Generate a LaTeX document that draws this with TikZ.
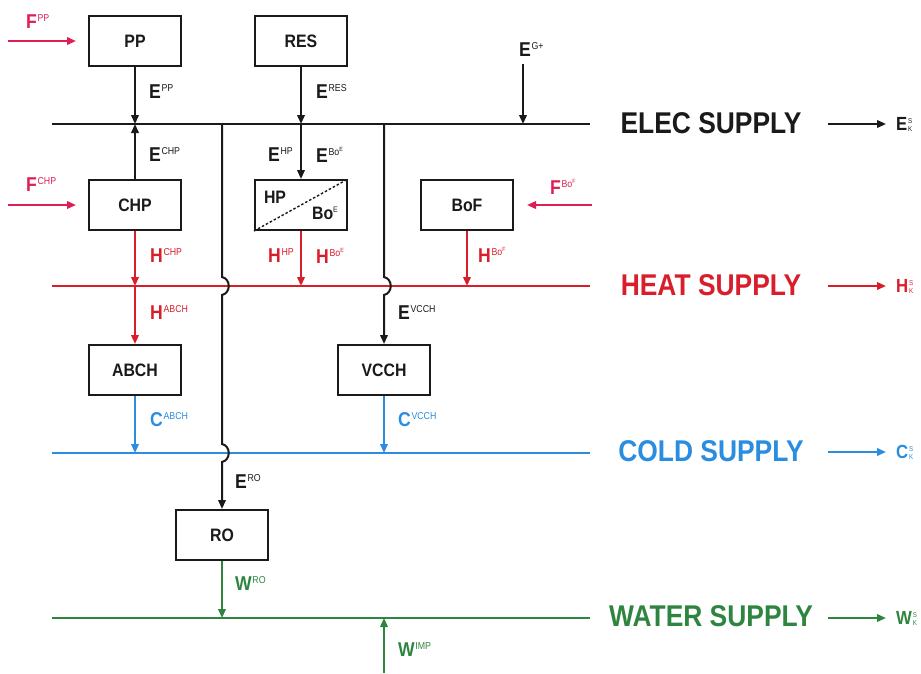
\documentclass[tikz,border=0pt]{standalone}
\usepackage{fontspec}
\setmainfont{Liberation Sans}[FakeStretch=0.88]
\usetikzlibrary{arrows.meta}
\definecolor{ink}{HTML}{1A1A1A}
\definecolor{heatc}{HTML}{D91E2B}
\definecolor{fuelc}{HTML}{DE1F55}
\definecolor{coldc}{HTML}{2A8DE0}
\definecolor{waterc}{HTML}{2E8540}
\newcommand\Lbl[2]{{\bfseries\fontsize{20}{20}\selectfont #1}\hspace{0.8pt}\raisebox{7pt}{\fontsize{10}{10}\selectfont #2}}
\newcommand\SupB[2]{#1\raisebox{3.5pt}{\fontsize{6}{6}\selectfont #2}}
\newcommand\OutL[1]{{\bfseries\fontsize{19}{19}\selectfont #1}\hspace{1pt}\raisebox{-1pt}{\fontsize{7}{8.5}\selectfont\shortstack[l]{S\\K}}}
\begin{document}
\begin{tikzpicture}[x=1pt,y=-1pt,
  line width=2pt, >={Triangle[length=9pt,width=7.5pt]},
  box/.style={draw=ink, line width=2pt, minimum width=92pt, minimum height=50pt, inner sep=0pt,
    font=\bfseries\fontsize{18}{18}\selectfont, text=ink},
  lab/.style={anchor=west, inner sep=0pt},
  supply/.style={inner sep=0pt, font=\bfseries\fontsize{30}{30}\selectfont},
  elec/.style={draw=ink},
  heat/.style={draw=heatc},
  fuel/.style={draw=fuelc},
  cold/.style={draw=coldc},
  water/.style={draw=waterc}]
\useasboundingbox[fill=white] (0,0) rectangle (921,673);

% boxes
\node[box] (PP) at (135,41) {PP};
\node[box] (RES) at (301,41) {RES};
\node[box] (CHP) at (135,205) {CHP};
\node[box] (HPB) at (301,205) {};
\node[box] (BoF) at (467,205) {BoF};
\node[box] (ABCH) at (135,370) {ABCH};
\node[box] (VCCH) at (384,370) {VCCH};
\node[box] (RO) at (222,535) {RO};
\draw[ink, line width=1.4pt, dash pattern=on 2.5pt off 2pt] (HPB.south west) -- (HPB.north east);
\node[inner sep=0pt, font=\bfseries\fontsize{18}{18}\selectfont, text=ink] (HPt) at (275,197) {HP};
\node[inner sep=0pt, font=\bfseries\fontsize{18}{18}\selectfont, text=ink] (BoEt) at (325,213) {Bo\raisebox{7pt}{\mdseries\fontsize{8}{8}\selectfont E}};

% buses
\coordinate (eL) at (52,124); \coordinate (eR) at (590,124);
\coordinate (hL) at (52,286); \coordinate (hR) at (590,286);
\coordinate (cL) at (52,453); \coordinate (cR) at (590,453);
\coordinate (wL) at (52,618); \coordinate (wR) at (590,618);
\draw[elec] (eL) -- (eR);
\draw[heat] (hL) -- (hR);
\draw[cold] (cL) -- (cR);
\draw[water] (wL) -- (wR);

% supply labels
\node[supply, text=ink] (ES) at (711,123) {ELEC SUPPLY};
\node[supply, text=heatc] (HS) at (711,285) {HEAT SUPPLY};
\node[supply, text=coldc] (CS) at (711,451) {COLD SUPPLY};
\node[supply, text=waterc] (WS) at (711,616) {WATER SUPPLY};
\node[lab, text=ink] (EK) at (895,124) {\OutL{E}};
\node[lab, text=heatc] (HK) at (895,286) {\OutL{H}};
\node[lab, text=coldc] (CK) at (895,452) {\OutL{C}};
\node[lab, text=waterc] (WK) at (895,618) {\OutL{W}};
\coordinate (eo) at (828,124); \coordinate (ho) at (828,286);
\coordinate (co) at (828,452); \coordinate (wo) at (828,618);
\draw[elec,->,shorten >=9pt] (eo) -- (EK.west);
\draw[heat,->,shorten >=9pt] (ho) -- (HK.west);
\draw[cold,->,shorten >=9pt] (co) -- (CK.west);
\draw[water,->,shorten >=9pt] (wo) -- (WK.west);

% fuel inputs
\coordinate (fpp) at (8,41); \coordinate (fchp) at (8,205); \coordinate (fbof) at (592,205);
\draw[fuel,->,shorten >=12pt] (fpp) -- (PP.west |- fpp);
\draw[fuel,->,shorten >=12pt] (fchp) -- (CHP.west |- fchp);
\draw[fuel,->,shorten >=13pt] (fbof) -- (BoF.east |- fbof);
\node[lab, text=fuelc] (lFPP) at (25,22) {\Lbl{F}{PP}};
\node[lab, text=fuelc] (lFCHP) at (25,185) {\Lbl{F}{CHP}};
\node[lab, text=fuelc] (lFBOF) at (549,187) {\Lbl{F}{\SupB{Bo}{F}}};

% electricity flows
\draw[elec,->] (PP) -- (PP |- eL);
\draw[elec,->] (RES) -- (RES |- eL);
\draw[elec,->] (CHP) -- (CHP |- eL);
\draw[elec,->] (HPB |- eL) -- (HPB);
\coordinate (gtop) at (523,64);
\draw[elec,->] (gtop) -- (gtop |- eL);
\node[lab, text=ink] (lEPP) at (148,92) {\Lbl{E}{PP}};
\node[lab, text=ink] (lERES) at (315,92) {\Lbl{E}{RES}};
\node[lab, text=ink] (lECHP) at (148,155) {\Lbl{E}{CHP}};
\node[lab, text=ink] (lEHP) at (267,155) {\Lbl{E}{HP}};
\node[lab, text=ink] (lEBOE) at (315,155) {\Lbl{E}{\SupB{Bo}{E}}};
\node[lab, text=ink] (lEG) at (518,50) {\Lbl{E}{G+}};

% vertical feeders with jumps
\coordinate (tro) at (222,124);
\draw[elec,->] (tro) -- (222,277) .. controls (231,279) and (231,293) .. (222,295)
  -- (222,444) .. controls (231,446) and (231,460) .. (222,462) -- (RO.north);
\coordinate (tvc) at (384,124);
\draw[elec,->] (tvc) -- (384,277) .. controls (393,279) and (393,293) .. (384,295)
  -- (VCCH.north);
\node[lab, text=ink] (lEVCCH) at (397,313) {\Lbl{E}{VCCH}};
\node[lab, text=ink] (lERO) at (234,481) {\Lbl{E}{RO}};

% heat flows
\draw[heat,->] (CHP) -- (CHP |- hL);
\draw[heat,->] (HPB) -- (HPB |- hL);
\draw[heat,->] (BoF) -- (BoF |- hL);
\draw[heat,->] (ABCH |- hL) -- (ABCH);
\node[lab, text=heatc] (lHCHP) at (149,256) {\Lbl{H}{CHP}};
\node[lab, text=heatc] (lHHP) at (267,256) {\Lbl{H}{HP}};
\node[lab, text=heatc] (lHBOE) at (315,256) {\Lbl{H}{\SupB{Bo}{E}}};
\node[lab, text=heatc] (lHBOF) at (477,255) {\Lbl{H}{\SupB{Bo}{F}}};
\node[lab, text=heatc] (lHABCH) at (149,313) {\Lbl{H}{ABCH}};

% cold flows
\draw[cold,->] (ABCH) -- (ABCH |- cL);
\draw[cold,->] (VCCH) -- (VCCH |- cL);
\node[lab, text=coldc] (lCABCH) at (149,420) {\Lbl{C}{ABCH}};
\node[lab, text=coldc] (lCVCCH) at (397,420) {\Lbl{C}{VCCH}};

% water flows
\draw[water,->] (RO) -- (RO |- wL);
\coordinate (wimp) at (384,673);
\draw[water,->] (wimp) -- (wimp |- wL);
\node[lab, text=waterc] (lWRO) at (234,583) {\Lbl{W}{RO}};
\node[lab, text=waterc] (lWIMP) at (397,650) {\Lbl{W}{IMP}};
\end{tikzpicture}
\end{document}
